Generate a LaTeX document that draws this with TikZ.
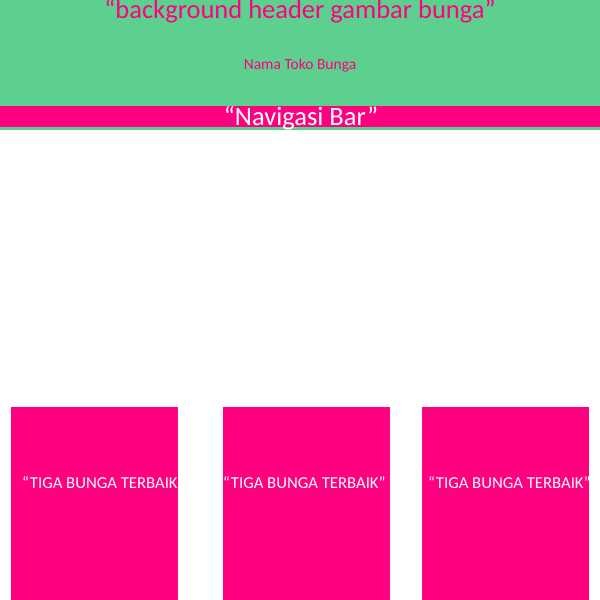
\documentclass[tikz,border=0pt]{standalone}
\usepackage{fontspec}
\setmainfont{Carlito}
\definecolor{hdrgreen}{HTML}{5DD08F}
\definecolor{hotpink}{HTML}{FF0080}
\tikzset{
  bigtxt/.style={anchor=base,inner sep=0pt,font=\fontsize{26.5}{30}\selectfont},
  smalltxt/.style={anchor=base,inner sep=0pt,font=\fontsize{15.5}{18}\selectfont},
  cardtxt/.style={anchor=base west,inner sep=0pt,text=white,font=\fontsize{16.7}{20}\selectfont},
}
\begin{document}
\begin{tikzpicture}[x=1pt,y=-1pt]
\useasboundingbox (0,0) rectangle (600,600);
\fill[white] (0,0) rectangle (600,600);
% header
\fill[hdrgreen] (0,0) rectangle (600,130);
\fill[hotpink] (0,106) rectangle (600,127);
\node[bigtxt,text=hotpink] (title) at (300,18) {“background header gambar bunga”};
\node[smalltxt,text=hotpink] (shop) at (300,69) {Nama Toko Bunga};
\node[bigtxt,text=white] (nav) at (301,125) {“Navigasi Bar”};
% cards
\fill[hotpink] (11,407) rectangle (178,600);
\fill[hotpink] (223,407) rectangle (390,600);
\fill[hotpink] (422,407) rectangle (589,600);
\begin{scope}
\clip (11,407) rectangle (178,600);
\node[cardtxt] (c1) at (22,488) {“TIGA BUNGA TERBAIK”};
\end{scope}
\node[cardtxt] (c2) at (223,488) {“TIGA BUNGA TERBAIK”};
\node[cardtxt] (c3) at (428,488) {“TIGA BUNGA TERBAIK”};
\end{tikzpicture}
\end{document}
